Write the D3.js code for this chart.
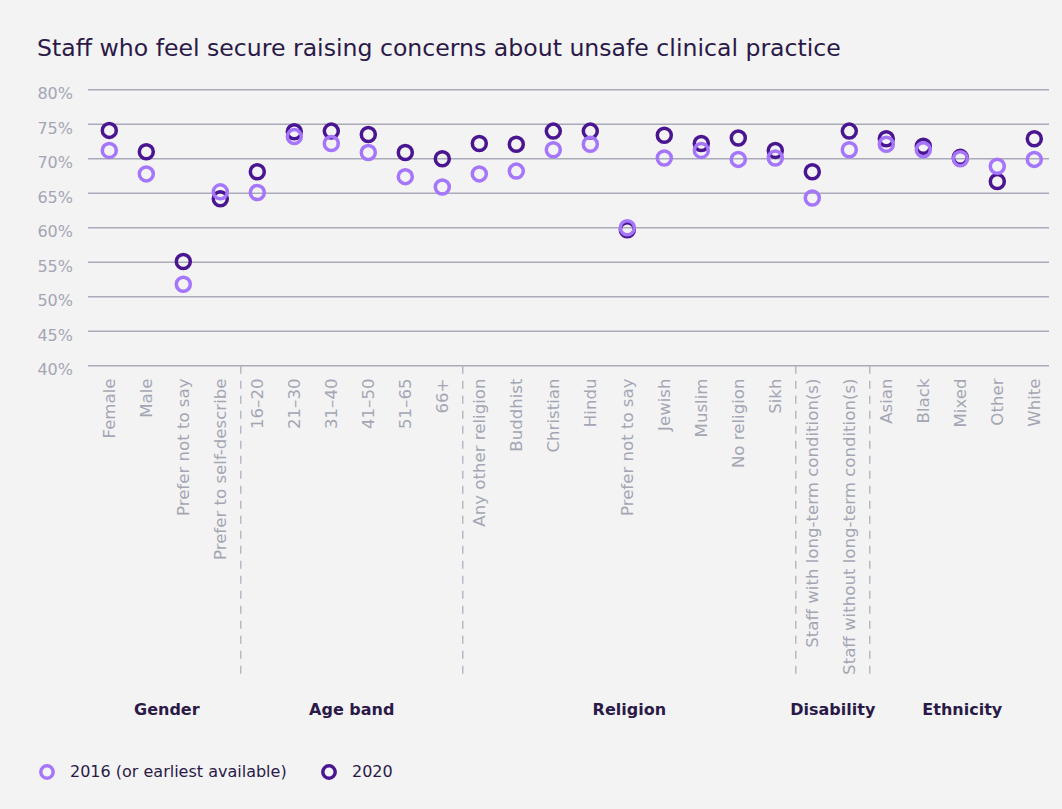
<!DOCTYPE html>
<html>
<head>
<meta charset="utf-8">
<script src="https://cdn.jsdelivr.net/npm/d3@7"></script>
<style>
  body { margin: 0; background: #f3f3f3; }
  svg { display: block; font-family: "DejaVu Sans", sans-serif; }
</style>
</head>
<body>
<div class="dot-chart"></div>
<script>
// categories along the x axis, in order
var categories = ["Female", "Male", "Prefer not to say", "Prefer to self-describe",
  "16–20", "21–30", "31–40", "41–50", "51–65", "66+",
  "Any other religion", "Buddhist", "Christian", "Hindu", "Prefer not to say ", "Jewish", "Muslim", "No religion", "Sikh",
  "Staff with long-term condition(s)", "Staff without long-term condition(s)",
  "Asian", "Black", "Mixed", "Other", "White"];

// group each category belongs to
var groups = ["Gender", "Gender", "Gender", "Gender",
  "Age band", "Age band", "Age band", "Age band", "Age band", "Age band",
  "Religion", "Religion", "Religion", "Religion", "Religion", "Religion", "Religion", "Religion", "Religion",
  "Disability", "Disability",
  "Ethnicity", "Ethnicity", "Ethnicity", "Ethnicity", "Ethnicity"];

// % of staff
var values2016 = [71.2, 67.8, 51.8, 65.2,
  65.1, 73.2, 72.2, 70.9, 67.4, 65.9,
  67.8, 68.2, 71.3, 72.1, 60.0, 70.1, 71.2, 69.9, 70.1,
  64.3, 71.3,
  72.1, 71.3, 70.0, 68.9, 69.9];
var values2020 = [74.1, 71.0, 55.1, 64.2,
  68.1, 73.9, 74.0, 73.5, 70.9, 70.0,
  72.2, 72.1, 74.0, 74.0, 59.7, 73.4, 72.2, 73.0, 71.2,
  68.1, 74.0,
  72.9, 71.8, 70.2, 66.7, 72.9];

var yTicks = [40, 45, 50, 55, 60, 65, 70, 75, 80];

var seriesNames = ["2016 (or earliest available)", "2020"];
var colors = { "2016": "#a575fa", "2020": "#4a1590" };

var width = 1062, height = 809;

var svg = d3.select(".dot-chart").append("svg")
  .attr("width", width)
  .attr("height", height);

var y = d3.scaleLinear().domain([40, 80]).range([365.7, 89.7]);
var x = d3.scalePoint().domain(categories).range([109.3, 1034.3]);

// title
svg.append("text")
  .attr("x", 37)
  .attr("y", 56)
  .attr("fill", "#2b1a48")
  .style("font-size", "23.6px")
  .text("Staff who feel secure raising concerns about unsafe clinical practice");

// gridlines + y labels
var grid = svg.append("g");
grid.selectAll("line")
  .data(yTicks)
  .enter().append("line")
  .attr("x1", 88).attr("x2", 1049)
  .attr("y1", function(d) { return y(d); })
  .attr("y2", function(d) { return y(d); })
  .attr("stroke", "#a9abb9")
  .attr("stroke-width", 1.4);

grid.selectAll("text")
  .data(yTicks)
  .enter().append("text")
  .attr("x", 73)
  .attr("y", function(d) { return y(d) + 5; })
  .attr("text-anchor", "end")
  .attr("dominant-baseline", "middle")
  .attr("fill", "#a4a6b3")
  .style("font-size", "16px")
  .text(function(d) { return d + "%"; });

// x labels (rotated)
svg.append("g").selectAll("text")
  .data(categories)
  .enter().append("text")
  .attr("transform", function(d) { return "translate(" + x(d) + ",378.5) rotate(-90)"; })
  .attr("text-anchor", "end")
  .attr("dominant-baseline", "central")
  .attr("fill", "#a4a6b3")
  .style("font-size", "16.6px")
  .text(function(d) { return d.trim(); });

// group spans
var groupNames = [];
groups.forEach(function(g) { if (groupNames.indexOf(g) < 0) groupNames.push(g); });
var spans = groupNames.map(function(g) {
  var cats = categories.filter(function(c, i) { return groups[i] == g; });
  return { name: g, first: cats[0], last: cats[cats.length - 1] };
});

// dashed separators between groups
var step = x.step();
svg.append("g").selectAll("line")
  .data(spans.slice(1))
  .enter().append("line")
  .attr("x1", function(d) { return x(d.first) - step / 2 + 2; })
  .attr("x2", function(d) { return x(d.first) - step / 2 + 2; })
  .attr("y1", y(40)).attr("y2", 677)
  .attr("stroke", "#a9abb9")
  .attr("stroke-width", 1.2)
  .attr("stroke-dasharray", "8,7");

svg.append("g").selectAll("text")
  .data(spans)
  .enter().append("text")
  .attr("x", function(d) { return (x(d.first) + x(d.last)) / 2 + 2; })
  .attr("y", 710)
  .attr("text-anchor", "middle")
  .attr("dominant-baseline", "middle")
  .attr("fill", "#2b1a48")
  .style("font-size", "16px")
  .style("font-weight", "bold")
  .text(function(d) { return d.name; });

// dots: 2020 underneath, 2016 on top
function dots(vals, color) {
  svg.append("g").selectAll("circle")
    .data(vals)
    .enter().append("circle")
    .attr("cx", function(d, i) { return x(categories[i]); })
    .attr("cy", function(d) { return y(d); })
    .attr("r", 7)
    .attr("fill", "none")
    .attr("stroke", color)
    .attr("stroke-width", 3.5);
}
dots(values2020, colors["2020"]);
dots(values2016, colors["2016"]);

// legend
var legend = svg.append("g").attr("transform", "translate(0,772)");
var legendX = [47, 329];
[colors["2016"], colors["2020"]].forEach(function(c, i) {
  legend.append("circle")
    .attr("cx", legendX[i]).attr("cy", 0)
    .attr("r", 6.2)
    .attr("fill", "none")
    .attr("stroke", c)
    .attr("stroke-width", 3.5);
  legend.append("text")
    .attr("x", legendX[i] + 23).attr("y", 0)
    .attr("dominant-baseline", "middle")
    .attr("fill", "#2b1a48")
    .style("font-size", "16px")
    .text(seriesNames[i]);
});
</script>
</body>
</html>
